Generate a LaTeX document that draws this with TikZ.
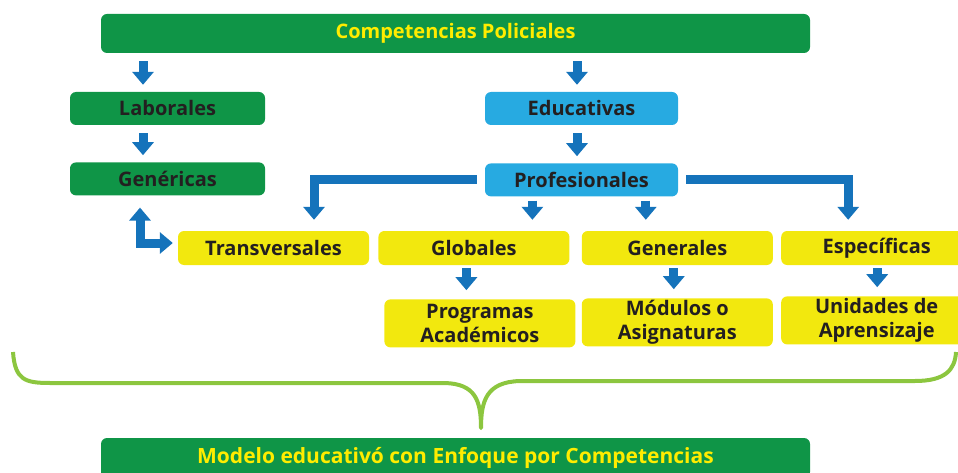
\documentclass[tikz,border=0pt]{standalone}
\usepackage{xcolor}
\usepackage{tikz}
\usepackage{fontspec}
\setmainfont{Open Sans}
\usetikzlibrary{positioning,arrows.meta}

\definecolor{verde}{RGB}{15,149,71}
\definecolor{celeste}{RGB}{39,170,225}
\definecolor{amarillo}{RGB}{242,232,14}
\definecolor{azul}{RGB}{21,115,187}
\definecolor{lima}{RGB}{140,198,63}
\definecolor{texto}{RGB}{35,31,32}
\definecolor{letra}{RGB}{255,236,0}

\begin{document}
\begin{tikzpicture}[x=1pt, y=-1pt,
        caja/.style = {rounded corners=6pt, inner sep=0pt, align=center, text=texto,
                       font=\bfseries\fontsize{20}{24}\selectfont},
        barra/.style = {caja, fill=verde, text=letra, minimum width=709pt, minimum height=39pt},
        verdes/.style = {caja, fill=verde, minimum width=195pt, minimum height=33pt},
        celestes/.style = {caja, fill=celeste, minimum width=193pt, minimum height=33pt},
        amarillas/.style = {caja, fill=amarillo, minimum width=191pt, minimum height=34pt},
        dobles/.style = {caja, fill=amarillo, minimum width=191pt, minimum height=48pt},
        punta/.tip = {Triangle[width=21pt, length=13pt]},
        flecha/.style = {azul, line width=9pt, -punta, shorten <=8pt, shorten >=7pt}]
                        \useasboundingbox (0,0) rectangle (958,473);
                        \clip (0,0) rectangle (958,473);

                        \node (CP) [barra] at (455.5,33.5) {Competencias Policiales};
                        \node (Lab) [verdes] at (167.5,108.5) {Laborales};
                        \node (Gen) [verdes, below=37pt of Lab] {Genéricas};
                        \node (Edu) [celestes] at (581.5,108.5) {Educativas};
                        \node (Prof) [celestes, below=38pt of Edu] {Profesionales};

                        \node (Tra) [amarillas] at (273.5,248) {Transversales};
                        \node (Glo) [amarillas, right=9pt of Tra] {Globales};
                        \node (Gnl) [amarillas, right=12pt of Glo] {Generales};
                        \node (Esp) [amarillas, right=8pt of Gnl] {Específicas};

                        \node (Pro) [dobles, below=34pt of Glo, xshift=6pt] {Programas\\Académicos};
                        \node (Mod) [dobles, below=33pt of Gnl] {Módulos o\\Asignaturas};
                        \node (Uni) [dobles, below=31pt of Esp] {Unidades de\\Aprensizaje};

                        \node (MEC) [barra, minimum height=40pt, font=\bfseries\fontsize{21}{24}\selectfont] at (455.5,458) {Modelo educativó con Enfoque por Competencias};

                        \draw[flecha] ([xshift=-24.5pt]Lab.north |- CP.south) -- ([xshift=-24.5pt]Lab.north);
                        \draw[flecha] ([xshift=-24.5pt]Lab.south) -- ([xshift=-24.5pt]Gen.north);
                        \draw[flecha] ([xshift=-4.5pt]Edu.north |- CP.south) -- ([xshift=-4.5pt]Edu.north);
                        \draw[flecha] ([xshift=-4.5pt]Edu.south) -- ([xshift=-4.5pt]Prof.north);
                        \draw[flecha, shorten <=4pt, shorten >=11pt] ([xshift=58.5pt]Glo.north |- Prof.south) -- ([xshift=58.5pt]Glo.north);
                        \draw[flecha, shorten <=4pt, shorten >=11pt] ([xshift=-31.5pt]Gnl.north |- Prof.south) -- ([xshift=-31.5pt]Gnl.north);
                        \draw[flecha, shorten >=11pt] (Prof.west) -| ([xshift=40.5pt]Tra.north);
                        \draw[flecha, shorten >=11pt] (Prof.east) -| ([xshift=-28.5pt]Esp.north);
                        \draw[flecha, shorten <=3pt, shorten >=9pt] ([xshift=-7.5pt]Glo.south) -- ([xshift=-7.5pt]Glo.south |- Pro.north);
                        \draw[flecha, shorten <=3pt, shorten >=9pt] ([xshift=-3.5pt]Gnl.south) -- ([xshift=-3.5pt]Gnl.south |- Mod.north);
                        \draw[flecha, shorten <=3pt, shorten >=9pt] ([xshift=0.5pt]Esp.south) -- ([xshift=0.5pt]Esp.south |- Uni.north);
                        \draw[flecha, punta-punta, shorten <=12pt, shorten >=5pt] ([xshift=-27.5pt]Gen.south) |- ([yshift=5pt]Tra.west);

                        \draw[lima, line width=4pt, line join=round]
                            (13,352) .. controls (15,380) and (25,383) .. (50,383) -- (445,383)
                            .. controls (475,384) and (481,400) .. (481,428)
                            .. controls (481,400) and (487,382) .. (520,381) -- (915,381)
                            .. controls (945,381) and (955,370) .. (956,352);
                    \end{tikzpicture}
\end{document}
